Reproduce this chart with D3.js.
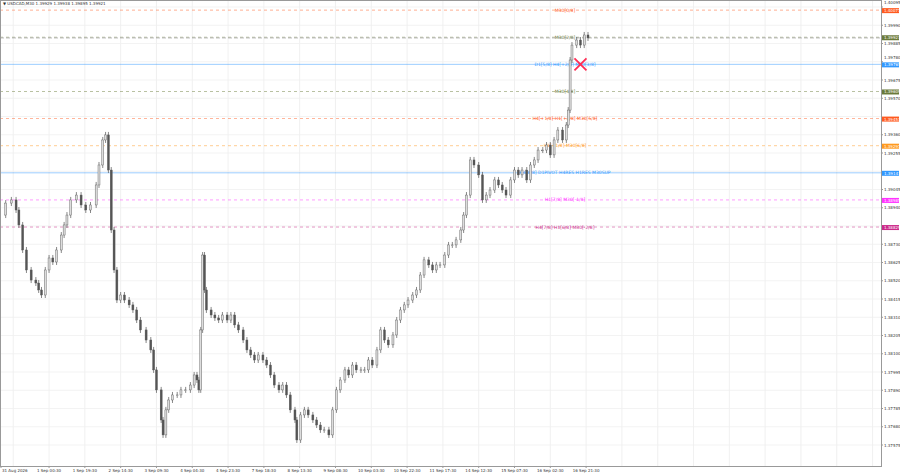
<!DOCTYPE html>
<html>
<head>
<meta charset="utf-8">
<script src="https://cdn.jsdelivr.net/npm/d3@7"></script>
<style>
body { margin: 0; background: #fff; }
text { font-family: "DejaVu Sans", sans-serif; }
</style>
</head>
<body>
<svg id="chart" width="900" height="474"></svg>
<script>
/* bar index (M30 bars) and closing prices */
let barIdx = [0,5,11,16,19,23,27,32,37,40,43,47,51,55,59,64,67,70,74,80,85,90,95,101,104,108,111,114,117,120,123,127,131,136,140,144,148,154,159,162,165,170,172,175,178,182,187,191,196,201,205,208,210,212,214,216,218,223,227,231,235,240,244,248,252,257,261,265,269,273,278,282,286,290,295,299,303,307,312,314,318,322,326,331,335,339,343,348,352,356,360,365,369,373,377,382,386,390,394,399,403,407,411,416,420,424,428,432,437,441,445,449,454,458,462,466,471,475,479,483,488,491,494,498,502,507,511,515,519,524,528,532,536,541,545,549,553,558,562,566,570,575,579,583,587,591,596,600,602,604,606,611,615,619,623];
let closes = [1.38898,1.38967,1.38985,1.38927,1.38841,1.38697,1.38582,1.38524,1.38507,1.38467,1.38438,1.38582,1.38651,1.38628,1.38697,1.38783,1.38841,1.38898,1.38985,1.39013,1.38956,1.38927,1.38956,1.39071,1.39186,1.39330,1.39359,1.39157,1.38812,1.38582,1.38409,1.38438,1.38409,1.38381,1.38352,1.38294,1.38237,1.38179,1.38122,1.38007,1.37892,1.37719,1.37633,1.37777,1.37834,1.37863,1.37863,1.37892,1.37892,1.37920,1.37978,1.37949,1.37892,1.38237,1.38668,1.38467,1.38352,1.38323,1.38306,1.38294,1.38323,1.38294,1.38323,1.38266,1.38237,1.38179,1.38122,1.38093,1.38064,1.38093,1.38064,1.38035,1.37978,1.37920,1.37892,1.37920,1.37863,1.37777,1.37719,1.37604,1.37748,1.37777,1.37748,1.37719,1.37690,1.37662,1.37662,1.37633,1.37777,1.37892,1.37949,1.38007,1.37978,1.38035,1.38007,1.38007,1.38007,1.38064,1.38035,1.38122,1.38237,1.38179,1.38151,1.38208,1.38294,1.38352,1.38381,1.38409,1.38438,1.38467,1.38553,1.38640,1.38611,1.38582,1.38611,1.38611,1.38668,1.38726,1.38726,1.38755,1.38812,1.38898,1.39013,1.39215,1.39186,1.39129,1.38985,1.39013,1.39042,1.39100,1.39071,1.39042,1.39013,1.39100,1.39157,1.39129,1.39157,1.39100,1.39186,1.39215,1.39272,1.39272,1.39301,1.39244,1.39330,1.39387,1.39330,1.39416,1.39502,1.39790,1.39876,1.39905,1.39876,1.39934,1.39917];

/* murrey levels */
let levelValues = [1.40077,1.39921,1.39765,1.39609,1.39453,1.39297,1.39141,1.38985,1.38829];
let levelNames = ["M30[0/8]","M30[2/8]","D1[5/8] H4[+2/8] M30[3/8]","M30[4/8]","H4[+1/8] H1[+2/8] M30[5/8]","H1[+1/8] M30[6/8]","H4[8/8] D1PIVOT H4RES H1RES M30SUP","H1[7/8] M30[-1/8]","H4[7/8] H1[6/8] M30[-2/8]"];
let levelColors = ["#ff5a1f","#6b7a3a","#3399ff","#6b7a3a","#ff5a1f","#ff9a1f","#3399ff","#ff33ff","#cc2a8a"];
let levelDash = ["3,3","3,3",null,"3,3","3,3","3,3",null,"3,3","3,3"];

let priceTicks = [1.40095,1.39990,1.39885,1.39780,1.39675,1.39570,1.39360,1.39255,1.39045,1.38940,1.38730,1.38625,1.38520,1.38415,1.38310,1.38205,1.38100,1.37995,1.37890,1.37785,1.37680,1.37575];
let timeLabels = ["31 Aug 2026","1 Sep 00:30","1 Sep 19:30","2 Sep 14:30","3 Sep 09:30","4 Sep 04:30","4 Sep 23:30","7 Sep 18:30","8 Sep 13:30","9 Sep 08:30","10 Sep 03:30","10 Sep 22:30","11 Sep 17:30","14 Sep 12:30","15 Sep 07:30","16 Sep 02:30","16 Sep 21:30"];
let timeLabelBars = timeLabels.map((d, i) => 13 + i * 38);

let svg = d3.select("#chart");
let plotW = 881, plotH = 466;

let x = d3.scaleLinear().domain([0, 623]).range([1, 588]);
let y = d3.scaleLinear().domain([1.37575, 1.40095]).range([445, 7]);

/* grid */
let grid = svg.append("g");
d3.range(0, 26).forEach(i => {
    let gx = x(13 + i * 38);
    if (gx < plotW) grid.append("line").attr("x1", gx).attr("x2", gx).attr("y1", 0).attr("y2", plotH)
        .attr("stroke", "#ececec").attr("stroke-width", 0.8);
});
priceTicks.concat([1.39465, 1.39150, 1.38835]).forEach(p => {
    grid.append("line").attr("x1", 0).attr("x2", plotW).attr("y1", y(p)).attr("y2", y(p))
        .attr("stroke", "#f0f0f0").attr("stroke-width", 0.8);
});

/* levels */
levelValues.forEach((v, i) => {
    svg.append("line").attr("x1", 0).attr("x2", plotW).attr("y1", y(v)).attr("y2", y(v))
        .attr("stroke", levelColors[i]).attr("stroke-width", 0.8).attr("opacity", 0.6)
        .attr("stroke-dasharray", levelDash[i]);
    svg.append("text").attr("x", 565).attr("y", y(v) + 1.5).attr("text-anchor", "middle")
        .attr("font-size", 4.5).attr("fill", levelColors[i]).text(levelNames[i]);
});
/* current price line */
svg.append("line").attr("x1", 0).attr("x2", plotW).attr("y1", y(closes[closes.length - 1]))
    .attr("y2", y(closes[closes.length - 1])).attr("stroke", "#aaa").attr("stroke-width", 0.8).attr("stroke-dasharray", "4,2");

/* candles */
let candles = svg.append("g");
closes.forEach((c, i) => {
    if (i == 0) return;
    let o = closes[i - 1];
    let cx = x(barIdx[i]);
    let top = y(Math.max(o, c)), bot = y(Math.min(o, c));
    candles.append("line").attr("x1", cx).attr("x2", cx).attr("y1", top - 3).attr("y2", bot + 3)
        .attr("stroke", "#555").attr("stroke-width", 0.7);
    candles.append("rect").attr("x", cx - 1).attr("width", 2).attr("y", top)
        .attr("height", Math.max(bot - top, 0.8))
        .attr("fill", c >= o ? "#ddd" : "#555").attr("stroke", "#555").attr("stroke-width", 0.4);
});

/* red cross marker */
let mx = x(615), my = y(levelValues[2]);
svg.append("path").attr("d", `M${mx - 6},${my - 6}L${mx + 6},${my + 6}M${mx + 6},${my - 6}L${mx - 6},${my + 6}`)
    .attr("stroke", "#ff2d55").attr("stroke-width", 1.8);

/* frame */
svg.append("rect").attr("x", 0.5).attr("y", 0.5).attr("width", plotW).attr("height", plotH)
    .attr("fill", "none").attr("stroke", "#999");

/* price axis: tick labels nudged up when a level tag sits on them */
priceTicks.forEach(p => {
    let ty = y(p);
    let near = levelValues.some(v => Math.abs(y(v) - ty) < 5);
    svg.append("line").attr("x1", plotW).attr("x2", plotW + 2).attr("y1", ty).attr("y2", ty).attr("stroke", "#999");
    svg.append("text").attr("x", plotW + 3).attr("y", near ? ty - 3 : ty + 1.5).attr("font-size", 4).attr("fill", "#333")
        .text(p.toFixed(5));
});
levelValues.forEach((v, i) => {
    svg.append("rect").attr("x", plotW + 1).attr("y", y(v) - 2).attr("width", 17).attr("height", 5)
        .attr("fill", levelColors[i]);
    svg.append("text").attr("x", plotW + 3).attr("y", y(v) + 2).attr("font-size", 4).attr("fill", "#fff")
        .text(v.toFixed(5));
});

/* time axis */
timeLabels.forEach((t, i) => {
    let tx = i == 0 ? 1 : x(timeLabelBars[i]);
    svg.append("line").attr("x1", tx).attr("x2", tx).attr("y1", plotH).attr("y2", plotH + 2).attr("stroke", "#999");
    svg.append("text").attr("x", i == 0 ? 2 : tx).attr("y", plotH + 5.5).attr("font-size", 4).attr("fill", "#333")
        .attr("text-anchor", i == 0 ? "start" : "middle").text(t);
});

/* title */
svg.append("text").attr("x", 3).attr("y", 5).attr("font-size", 4).attr("fill", "#333")
    .text("\u25BC USDCAD,M30  1.39929 1.39938 1.39895 1.39921");
</script>
</body>
</html>
